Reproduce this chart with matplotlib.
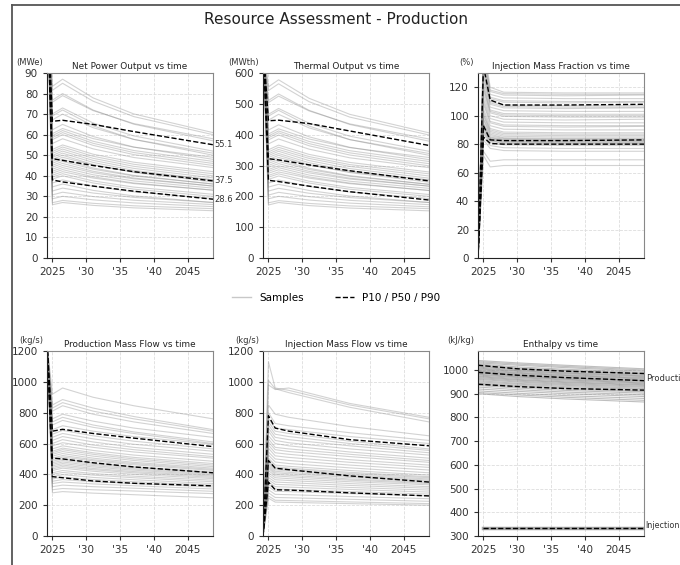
import matplotlib
matplotlib.use("Agg")
import matplotlib.pyplot as plt
from matplotlib.lines import Line2D

# time points (decimal years)
t_decline = [2024.2, 2025.0, 2026.5, 2031.0, 2037.0, 2048.7]
t_inject = [2024.2, 2025.0, 2026.0, 2028.0, 2037.0, 2048.7]
t_enth = [2024.2, 2030.0, 2037.0, 2048.7]
t_enth_inj = [2025.0, 2048.7]

x_ticks = [2025, 2030, 2035, 2040, 2045]
x_labels = ['2025', "'30", "'35", "'40", '2045']

# Net power output samples (MWe)
power_samples = [
    [130, 83.5, 87, 77.9, 70.1, 61], [130, 81.6, 85, 76.3, 68.8, 60],
    [130, 76.8, 80, 72.0, 65.1, 57], [130, 75.8, 79, 71.7, 65.4, 58],
    [130, 70.1, 73, 65.7, 59.4, 52], [130, 69.1, 72, 64.3, 57.7, 50],
    [130, 67.2, 70, 63.4, 57.7, 51], [130, 62.4, 65, 59.1, 54.0, 48],
    [130, 60.5, 63, 58.1, 53.9, 49], [130, 59.5, 62, 56.8, 52.3, 47],
    [130, 58.6, 61, 55.8, 51.3, 46], [130, 57.6, 60, 54.8, 50.3, 45],
    [130, 55.7, 58, 53.1, 48.9, 44], [130, 52.8, 55, 50.5, 46.6, 42],
    [130, 51.8, 54, 49.5, 45.6, 41], [130, 50.9, 53, 48.5, 44.6, 40],
    [130, 49.9, 52, 47.5, 43.6, 39], [130, 49.0, 51, 46.5, 42.6, 38],
    [130, 48.0, 50, 45.5, 41.6, 37], [130, 47.0, 49, 45.2, 41.9, 38],
    [130, 46.1, 48, 43.8, 40.2, 36], [130, 45.1, 47, 43.2, 39.9, 36],
    [130, 44.2, 46, 42.2, 38.9, 35], [130, 43.2, 45, 41.5, 38.5, 35],
    [130, 42.2, 44, 40.5, 37.5, 34], [130, 41.3, 43, 39.5, 36.5, 33],
    [130, 40.3, 42, 38.9, 36.2, 33], [130, 39.4, 41, 37.5, 34.5, 31],
    [130, 38.4, 40, 36.5, 33.5, 30], [130, 36.5, 38, 34.9, 32.2, 29],
    [130, 34.6, 36, 32.9, 30.2, 27], [130, 32.6, 34, 31.6, 29.5, 27],
    [130, 30.7, 32, 29.9, 28.1, 26], [130, 28.8, 30, 28.3, 26.8, 25],
    [130, 26.9, 28, 26.6, 25.4, 24], [130, 25.9, 27, 25.6, 24.4, 23],
]
power_p10 = [130, 66.5, 67.0, 65.0, 61.5, 55.1]
power_p50 = [130, 48.3, 47.5, 45.0, 42.0, 37.5]
power_p90 = [130, 38.0, 37.0, 35.0, 32.5, 28.6]

# Thermal output samples (MWth)
thermal_samples = [
    [700, 555, 578, 518, 466, 406], [700, 543, 565, 507, 457, 399],
    [700, 511, 532, 479, 433, 379], [700, 504, 525, 477, 435, 386],
    [700, 466, 485, 437, 395, 346], [700, 460, 479, 428, 384, 333],
    [700, 447, 466, 422, 384, 339], [700, 415, 432, 393, 359, 319],
    [700, 402, 419, 386, 358, 326], [700, 396, 412, 378, 348, 313],
    [700, 390, 406, 371, 341, 306], [700, 383, 399, 364, 334, 299],
    [700, 370, 386, 353, 325, 293], [700, 351, 366, 336, 310, 279],
    [700, 344, 359, 329, 303, 273], [700, 338, 352, 323, 297, 266],
    [700, 332, 346, 316, 290, 259], [700, 326, 339, 309, 283, 253],
    [700, 319, 333, 303, 277, 246], [700, 313, 326, 301, 279, 253],
    [700, 307, 319, 291, 267, 239], [700, 300, 313, 287, 265, 239],
    [700, 294, 306, 281, 259, 233], [700, 287, 299, 276, 256, 233],
    [700, 281, 293, 269, 249, 226], [700, 275, 286, 263, 243, 219],
    [700, 268, 279, 259, 241, 219], [700, 262, 273, 249, 229, 206],
    [700, 255, 266, 243, 223, 200], [700, 243, 253, 232, 214, 193],
    [700, 230, 239, 219, 201, 180], [700, 217, 226, 210, 196, 180],
    [700, 204, 213, 199, 187, 173], [700, 192, 200, 188, 178, 166],
    [700, 179, 186, 177, 169, 160], [700, 172, 180, 170, 162, 153],
]
thermal_p10 = [700, 445, 447, 436, 412, 365]
thermal_p50 = [700, 322, 318, 302, 283, 250]
thermal_p90 = [700, 252, 248, 233, 215, 188]

# Injection mass fraction samples (%)
frac_samples = [
    [0, 150, 120, 116.5, 116, 116], [0, 145, 118, 115.5, 115, 115],
    [0, 142, 117, 114.5, 114, 114.5], [0, 140, 115, 112.5, 112, 112],
    [0, 138, 113, 110.5, 110, 110], [0, 136, 112, 109.5, 109, 109.5],
    [0, 133, 110, 107.5, 107, 107], [0, 130, 109, 106.5, 106, 106],
    [0, 128, 108, 105.5, 105, 105.5], [0, 125, 106, 103.5, 103, 103],
    [0, 122, 104, 101.5, 101, 101], [0, 120, 103, 100.5, 100, 100],
    [0, 118, 102, 99.5, 99, 99], [0, 115, 100, 97.5, 97, 97.5],
    [0, 112, 98, 95.5, 95, 95], [0, 110, 96, 93.5, 93, 93],
    [0, 108, 95, 92.5, 92, 92.5], [0, 105, 93, 90.5, 90, 90],
    [0, 103, 91, 88.5, 88, 88], [0, 101, 90, 87.5, 87, 87],
    [0, 100, 89, 86.5, 86, 86], [0, 98, 88, 85.5, 85, 85],
    [0, 97, 87, 84.5, 84, 84], [0, 95, 86, 84, 83.5, 83.5],
    [0, 94, 85, 83.5, 83, 83], [0, 93, 84.5, 83, 82.5, 82.5],
    [0, 92, 84, 82.5, 82, 82], [0, 91, 83.5, 82, 81.5, 81.5],
    [0, 90, 83, 81.5, 81, 81], [0, 89, 82.5, 81, 80.5, 80.5],
    [0, 88, 82, 80.5, 80, 80], [0, 87, 81, 79.5, 79, 79],
    [0, 85, 79, 77.5, 77, 77], [0, 83, 77, 75.5, 75, 75],
    [0, 75, 68, 69, 69, 69], [0, 72, 64, 65, 65, 65],
]
frac_p10 = [0, 135, 111, 107.5, 107.5, 108]
frac_p50 = [0, 93, 83, 82.5, 82.5, 83]
frac_p90 = [0, 85, 80.5, 80, 80, 80]

# Production mass flow samples (kg/s)
prod_samples = [
    [1250, 920, 960, 900, 845, 760], [1250, 850, 885, 830, 775, 690],
    [1250, 830, 865, 810, 760, 680], [1250, 810, 845, 790, 740, 665],
    [1250, 760, 790, 745, 700, 640], [1250, 740, 770, 720, 675, 610],
    [1250, 720, 750, 705, 665, 600], [1250, 690, 715, 680, 645, 595],
    [1250, 660, 685, 650, 615, 565], [1250, 640, 665, 630, 595, 550],
    [1250, 620, 645, 610, 575, 530], [1250, 600, 625, 590, 560, 515],
    [1250, 585, 605, 575, 545, 505], [1250, 565, 585, 555, 525, 485],
    [1250, 550, 570, 540, 510, 470], [1250, 540, 560, 530, 500, 460],
    [1250, 530, 548, 518, 490, 450], [1250, 518, 535, 505, 478, 440],
    [1250, 505, 522, 495, 470, 432], [1250, 495, 512, 487, 462, 425],
    [1250, 485, 500, 475, 450, 415], [1250, 475, 490, 466, 443, 410],
    [1250, 465, 480, 457, 435, 402], [1250, 455, 470, 448, 427, 395],
    [1250, 445, 460, 438, 418, 388], [1250, 435, 450, 430, 410, 380],
    [1250, 425, 440, 420, 400, 372], [1250, 410, 425, 405, 388, 362],
    [1250, 400, 412, 395, 378, 352], [1250, 385, 398, 380, 365, 340],
    [1250, 370, 382, 366, 352, 330], [1250, 355, 366, 352, 340, 318],
    [1250, 340, 350, 338, 326, 305], [1250, 320, 330, 320, 310, 290],
    [1250, 300, 308, 300, 292, 275], [1250, 280, 288, 278, 268, 248],
]
prod_p10 = [1250, 680, 692, 665, 635, 580]
prod_p50 = [1250, 505, 500, 475, 448, 410]
prod_p90 = [1250, 385, 378, 357, 342, 325]

# Injection mass flow samples (kg/s)
inj_samples = [
    [0, 1130, 960, 945, 850, 760], [0, 1010, 955, 930, 835, 740],
    [0, 980, 950, 960, 860, 770], [0, 850, 790, 770, 710, 650],
    [0, 800, 730, 715, 670, 620], [0, 760, 700, 690, 645, 600],
    [0, 740, 680, 665, 615, 565], [0, 720, 660, 645, 600, 555],
    [0, 700, 640, 625, 585, 540], [0, 680, 620, 605, 565, 525],
    [0, 650, 600, 585, 545, 505], [0, 630, 575, 565, 530, 490],
    [0, 610, 560, 548, 515, 478], [0, 590, 540, 530, 495, 460],
    [0, 570, 520, 510, 478, 445], [0, 545, 500, 490, 460, 428],
    [0, 525, 480, 470, 442, 410], [0, 505, 460, 452, 425, 395],
    [0, 490, 448, 440, 413, 385], [0, 480, 440, 432, 405, 378],
    [0, 470, 430, 423, 396, 370], [0, 460, 420, 413, 388, 362],
    [0, 450, 410, 404, 380, 355], [0, 440, 400, 394, 370, 347],
    [0, 425, 390, 384, 362, 340], [0, 410, 378, 372, 352, 332],
    [0, 395, 365, 360, 340, 320], [0, 380, 350, 346, 328, 310],
    [0, 365, 335, 332, 315, 298], [0, 350, 320, 317, 302, 285],
    [0, 335, 305, 302, 288, 272], [0, 320, 290, 288, 275, 260],
    [0, 300, 270, 268, 256, 242], [0, 280, 250, 248, 238, 225],
    [0, 260, 232, 230, 221, 210], [0, 245, 220, 218, 210, 200],
]
inj_p10 = [0, 780, 700, 680, 625, 585]
inj_p50 = [0, 490, 440, 430, 390, 350]
inj_p90 = [0, 350, 300, 298, 280, 260]

# Enthalpy samples (kJ/kg)
enth_samples = [
    [1040, 1030, 1020, 1005], [1035, 1025, 1015, 1000], [1030, 1020, 1010, 995],
    [1025, 1013, 1003, 990], [1020, 1008, 998, 985], [1015, 1004, 995, 982],
    [1012, 1000, 990, 978], [1008, 997, 987, 975], [1005, 994, 984, 972],
    [1002, 990, 980, 968], [998, 987, 977, 965], [995, 984, 974, 962],
    [992, 980, 970, 958], [989, 977, 967, 955], [986, 974, 964, 952],
    [982, 971, 961, 948], [979, 968, 958, 945], [975, 964, 954, 942],
    [972, 960, 950, 938], [968, 957, 947, 935], [964, 953, 943, 931],
    [960, 949, 939, 927], [955, 944, 935, 922], [950, 940, 930, 918],
    [945, 935, 925, 912], [940, 930, 920, 908], [935, 924, 914, 902],
    [928, 917, 907, 895], [920, 910, 900, 888], [912, 902, 892, 880],
    [905, 895, 885, 872], [900, 888, 878, 865],
]
enth_p10 = [1020, 1005, 995, 985]
enth_p50 = [990, 978, 968, 955]
enth_p90 = [940, 930, 922, 915]
enth_inj = [335, 335]

SAMPLE_KW = dict(color='gray', alpha=0.35, lw=0.8)
PCT_KW = dict(color='black', ls='--', lw=1.0)

fig = plt.figure(figsize=(6.8, 5.65), dpi=100)

W = 166 / 680
H = 185 / 565
lefts = [47 / 680, 263 / 680, 478 / 680]
bottoms = [1 - 258 / 565, 1 - 536 / 565]


def make_ax(col, row, title, unit, ylim, yticks):
    ax = fig.add_axes([lefts[col], bottoms[row], W, H])
    ax.set_xlim(2024.2, 2048.7)
    ax.set_ylim(*ylim)
    ax.set_yticks(yticks)
    ax.set_xticks(x_ticks)
    ax.set_xticklabels(x_labels)
    ax.tick_params(labelsize=7.5, length=3, width=0.8, colors='#333333')
    ax.grid(True, color='#dddddd', ls='--', lw=0.6)
    ax.set_axisbelow(True)
    for s in ['top', 'right']:
        ax.spines[s].set_color('#888888')
    for s in ['left', 'bottom']:
        ax.spines[s].set_color('#222222')
    ax.set_title(title, fontsize=6.4, pad=3, color='#222222')
    ax.text(-0.025, 1.03, unit, transform=ax.transAxes, ha='right', va='bottom',
            fontsize=6, color='#333333')
    return ax


def draw(ax, t, samples, pcts, alpha=None):
    kw = dict(SAMPLE_KW)
    if alpha is not None:
        kw['alpha'] = alpha
    for s in samples:
        ax.plot(t, s, **kw)
    for p in pcts:
        ax.plot(t, p, **PCT_KW)


ax1 = make_ax(0, 0, 'Net Power Output vs time', '(MWe)', (0, 90), range(0, 91, 10))
draw(ax1, t_decline, power_samples, [power_p10, power_p50, power_p90])
for p in [power_p10, power_p50, power_p90]:
    ax1.text(1.01, p[-1], f'{p[-1]:.1f}', transform=ax1.get_yaxis_transform(),
             ha='left', va='center', fontsize=6, color='#333333')

ax2 = make_ax(1, 0, 'Thermal Output vs time', '(MWth)', (0, 600), range(0, 601, 100))
draw(ax2, t_decline, thermal_samples, [thermal_p10, thermal_p50, thermal_p90])

ax3 = make_ax(2, 0, 'Injection Mass Fraction vs time', '(%)', (0, 130), range(0, 121, 20))
draw(ax3, t_inject, frac_samples, [frac_p10, frac_p50, frac_p90])

ax4 = make_ax(0, 1, 'Production Mass Flow vs time', '(kg/s)', (0, 1200), range(0, 1201, 200))
draw(ax4, t_decline, prod_samples, [prod_p10, prod_p50, prod_p90])

ax5 = make_ax(1, 1, 'Injection Mass Flow vs time', '(kg/s)', (0, 1200), range(0, 1201, 200))
draw(ax5, t_inject, inj_samples, [inj_p10, inj_p50, inj_p90])

ax6 = make_ax(2, 1, 'Enthalpy vs time', '(kJ/kg)', (300, 1080), range(300, 1001, 100))
draw(ax6, t_enth, enth_samples, [enth_p10, enth_p50, enth_p90], alpha=0.5)
ax6.plot(t_enth_inj, enth_inj, color='gray', alpha=0.7, lw=2.5)
ax6.plot(t_enth_inj, enth_inj, **PCT_KW)
ax6.text(1.01, enth_p50[-1] + 8, 'Production', transform=ax6.get_yaxis_transform(),
         ha='left', va='center', fontsize=6, color='#333333')
ax6.text(1.01, enth_inj[-1] + 8, 'Injection', transform=ax6.get_yaxis_transform(),
         ha='left', va='center', fontsize=5.8, color='#333333')

handles = [Line2D([], [], color='#c8c8c8', lw=1.0),
           Line2D([], [], color='black', ls='--', lw=1.0)]
fig.legend(handles, ['Samples', 'P10 / P50 / P90'], loc='center',
           bbox_to_anchor=(336 / 680, 1 - 298 / 565), ncol=2, frameon=False,
           fontsize=7.5, handlelength=1.8, columnspacing=3.0)

fig.text(336 / 680, 1 - 20 / 565, 'Resource Assessment - Production', ha='center',
         va='center', fontsize=11, color='#222222')

# frame edge visible in the original screenshot
fig.add_artist(Line2D([12 / 680, 12 / 680], [0, 1 - 5 / 565], transform=fig.transFigure,
                      color='#555555', lw=1.3))
fig.add_artist(Line2D([12 / 680, 1], [1 - 5 / 565, 1 - 5 / 565], transform=fig.transFigure,
                      color='#555555', lw=1.3))

fig.savefig('out.png', dpi=100)
